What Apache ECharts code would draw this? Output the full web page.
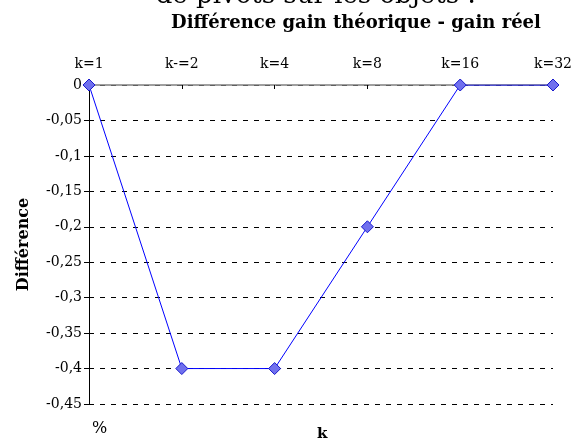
<!DOCTYPE html>
<html><head><meta charset="utf-8">
<script src="https://cdn.jsdelivr.net/npm/echarts@6/dist/echarts.min.js"></script>
<style>html,body{margin:0;padding:0;background:#fff}#c{width:580px;height:446px}</style>
</head><body><div id="c"></div>
<script>
var categories = ['k=1', 'k-=2', 'k=4', 'k=8', 'k=16', 'k=32'];
var diffValues = [0, -0.4, -0.4, -0.2, 0, 0];
var F = 'DejaVu Serif';
var chart = echarts.init(document.getElementById('c'));
chart.setOption({
  animation: false,
  backgroundColor: '#fff',
  title: {
    text: 'Différence gain théorique - gain réel',
    left: 351, top: 9, textAlign: 'center',
    textStyle: {fontFamily: F, fontWeight: 'bold', fontSize: 18, color: '#000'}
  },
  graphic: [
    {type: 'text', style: {x: 476, y: 9, text: 'de pivots sur les objets :', font: '26px "DejaVu Serif"', fill: '#000', textAlign: 'right', textVerticalAlign: 'bottom'}},
    {type: 'text', left: 92, top: 421, style: {text: '%', font: '16px "DejaVu Serif"', fill: '#000'}},
    {type: 'text', left: 317, top: 427, style: {text: 'k', font: 'bold 15px "DejaVu Serif"', fill: '#000'}}
  ],
  grid: {left: 89, right: 27, top: 85, bottom: 42, containLabel: false},
  xAxis: {
    type: 'category', position: 'top', data: categories, boundaryGap: false,
    axisLine: {lineStyle: {color: '#808080', width: 1.5}},
    axisTick: {inside: true, length: 4, lineStyle: {color: '#000'}},
    axisLabel: {fontFamily: F, fontSize: 14, color: '#000', margin: 14},
    splitLine: {show: false}
  },
  yAxis: {
    type: 'value', min: -0.45, max: 0, interval: 0.05,
    name: 'Différence', nameLocation: 'middle', nameGap: 57, nameRotate: 90,
    nameTextStyle: {fontFamily: F, fontWeight: 'bold', fontSize: 16, color: '#000'},
    axisLine: {show: true, lineStyle: {color: '#000', width: 1}},
    axisTick: {show: true, length: 5, lineStyle: {color: '#000'}},
    axisLabel: {fontFamily: F, fontSize: 14, color: '#000', margin: 7,
      formatter: function (v) { return String(Math.round(v * 100) / 100).replace('.', ','); }},
    splitLine: {show: true, lineStyle: {color: '#000', type: [5, 6], width: 1}}
  },
  series: [{
    type: 'line', data: diffValues,
    lineStyle: {color: '#0000ff', width: 1},
    symbol: 'diamond', symbolSize: 12,
    itemStyle: {color: '#7070ee', borderColor: '#1a1acc', borderWidth: 1}
  }]
});
</script></body></html>
